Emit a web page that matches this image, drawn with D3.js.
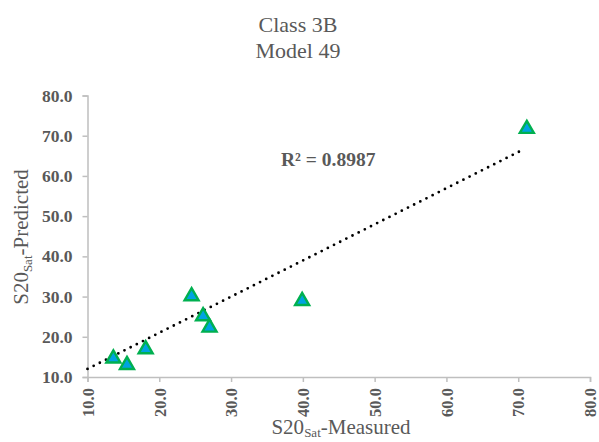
<!DOCTYPE html>
<html><head><meta charset="utf-8">
<script src="https://cdn.jsdelivr.net/npm/d3@7"></script>
<style>body{margin:0;background:#fff}svg{display:block}</style>
</head><body>
<script>
const measured  = [13.6, 15.5, 18.1, 24.5, 26.1, 27.0, 39.9, 71.2];
const predicted = [14.6, 13.0, 16.9, 30.1, 25.1, 22.3, 28.9, 71.7];
const trendX = [10.0, 70.3];
const trendY = [12.0, 66.2];
const ticks = [10, 20, 30, 40, 50, 60, 70, 80];
const titleLines = ["Class 3B", "Model 49"];
const r2Label = "R² = 0.8987";

const W = 599, H = 442;
const svg = d3.select("body").append("svg").attr("width", W).attr("height", H);
const x = d3.scaleLinear().domain([10, 80]).range([87.5, 590]);
const y = d3.scaleLinear().domain([10, 80]).range([377, 95.5]);
const grey = "#595959", axisC = "#bfbfbf";
const serif = "'Liberation Serif','Times New Roman',serif";

// title
svg.selectAll(".title").data(titleLines).join("text")
  .attr("x", 298).attr("y", (d, i) => 32 + i * 25.5)
  .attr("text-anchor", "middle").attr("font-family", serif).attr("font-size", 22)
  .attr("fill", grey).text(d => d);

// axes
const yAxis = svg.append("g").attr("transform", `translate(${x(10)},0)`)
  .call(d3.axisLeft(y).tickValues(ticks).tickSize(5).tickPadding(10).tickFormat(d3.format(".1f")));
const xAxis = svg.append("g").attr("transform", `translate(0,${y(10)})`)
  .call(d3.axisBottom(x).tickValues(ticks).tickSize(5).tickFormat(d3.format(".1f")));
[xAxis, yAxis].forEach(g => {
  g.select(".domain").attr("stroke", axisC).attr("stroke-width", 1.5);
  g.selectAll(".tick line").attr("stroke", axisC).attr("stroke-width", 1.5);
  g.selectAll("text").attr("fill", grey).attr("font-family", serif)
    .attr("font-size", 17.5).attr("font-weight", "bold");
});
xAxis.selectAll(".tick text").attr("transform", "rotate(-90)")
  .attr("font-size", 16.5)
  .attr("text-anchor", "end").attr("x", -11).attr("y", 0).attr("dy", "0.35em");

// axis titles
const xt = svg.append("text").attr("x", 341).attr("y", 434).attr("text-anchor", "middle")
  .attr("font-family", serif).attr("font-size", 21).attr("fill", grey);
xt.append("tspan").text("S20");
xt.append("tspan").attr("font-size", 13).attr("dy", 3).text("Sat");
xt.append("tspan").attr("dy", -3).text("-Measured");

const yt = svg.append("text").attr("transform", `translate(28,${237}) rotate(-90)`)
  .attr("text-anchor", "middle").attr("font-family", serif).attr("font-size", 21).attr("fill", grey);
yt.append("tspan").text("S20");
yt.append("tspan").attr("font-size", 13).attr("dy", 4).text("Sat");
yt.append("tspan").attr("dy", -4).text("-Predicted");

// trendline
svg.append("line")
  .attr("x1", x(trendX[0])).attr("y1", y(trendY[0]))
  .attr("x2", x(trendX[1])).attr("y2", y(trendY[1]))
  .attr("stroke", "#000").attr("stroke-width", 2.8)
  .attr("stroke-dasharray", "0 6.9").attr("stroke-linecap", "round");

// points
const tri = d3.symbol().type(d3.symbolTriangle).size(85);
svg.selectAll(".pt").data(measured).join("path")
  .attr("d", tri)
  .attr("transform", (d, i) => `translate(${x(d)},${y(predicted[i])})`)
  .attr("fill", "#00a3e2").attr("stroke", "#00b050").attr("stroke-width", 2.4);

// R2
svg.append("text").attr("x", 281).attr("y", 166).attr("font-family", serif)
  .attr("font-size", 19.5).attr("font-weight", "bold").attr("fill", grey).text(r2Label);
</script>
</body></html>
